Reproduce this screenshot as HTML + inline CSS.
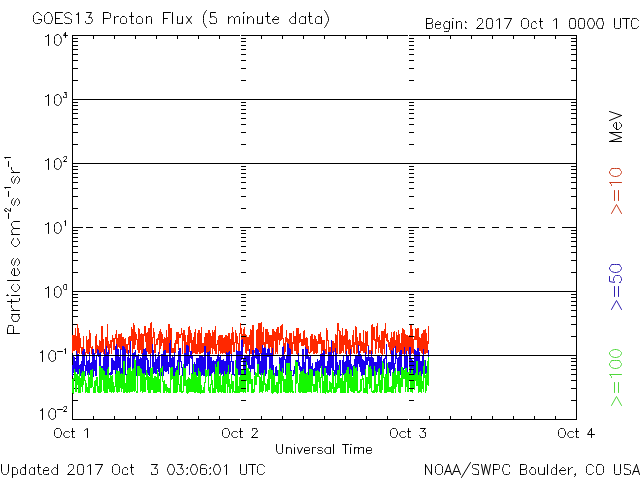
<!DOCTYPE html><html><head><meta charset="utf-8"><style>html,body{margin:0;padding:0;background:#fff;width:640px;height:480px;overflow:hidden}svg{display:block}</style></head><body>
<svg width="640" height="480" viewBox="0 0 640 480">
<rect width="640" height="480" fill="#fff"/>
<path d="M72.5,35.5H576.5V419.5H72.5ZM73,400.5H78M571,400.5H576M73,388.5H78M571,388.5H576M73,380.5H78M571,380.5H576M73,374.5H78M571,374.5H576M73,369.5H78M571,369.5H576M73,365.5H78M571,365.5H576M73,361.5H78M571,361.5H576M73,358.5H78M571,358.5H576M73,336.5H78M571,336.5H576M73,324.5H78M571,324.5H576M73,316.5H78M571,316.5H576M73,310.5H78M571,310.5H576M73,305.5H78M571,305.5H576M73,301.5H78M571,301.5H576M73,297.5H78M571,297.5H576M73,294.5H78M571,294.5H576M73,272.5H78M571,272.5H576M73,260.5H78M571,260.5H576M73,252.5H78M571,252.5H576M73,246.5H78M571,246.5H576M73,241.5H78M571,241.5H576M73,237.5H78M571,237.5H576M73,233.5H78M571,233.5H576M73,230.5H78M571,230.5H576M73,208.5H78M571,208.5H576M73,196.5H78M571,196.5H576M73,188.5H78M571,188.5H576M73,182.5H78M571,182.5H576M73,177.5H78M571,177.5H576M73,173.5H78M571,173.5H576M73,169.5H78M571,169.5H576M73,166.5H78M571,166.5H576M73,144.5H78M571,144.5H576M73,132.5H78M571,132.5H576M73,124.5H78M571,124.5H576M73,118.5H78M571,118.5H576M73,113.5H78M571,113.5H576M73,109.5H78M571,109.5H576M73,105.5H78M571,105.5H576M73,102.5H78M571,102.5H576M73,80.5H78M571,80.5H576M73,68.5H78M571,68.5H576M73,60.5H78M571,60.5H576M73,54.5H78M571,54.5H576M73,49.5H78M571,49.5H576M73,45.5H78M571,45.5H576M73,41.5H78M571,41.5H576M73,38.5H78M571,38.5H576M73,227.5H83M562,227.5H576M93.5,36V39M93.5,416V419M114.5,36V39M114.5,416V419M135.5,36V39M135.5,416V419M156.5,36V39M156.5,416V419M177.5,36V39M177.5,416V419M198.5,36V39M198.5,416V419M219.5,36V39M219.5,416V419M261.5,36V39M261.5,416V419M282.5,36V39M282.5,416V419M303.5,36V39M303.5,416V419M324.5,36V39M324.5,416V419M345.5,36V39M345.5,416V419M366.5,36V39M366.5,416V419M387.5,36V39M387.5,416V419M429.5,36V39M429.5,416V419M450.5,36V39M450.5,416V419M471.5,36V39M471.5,416V419M492.5,36V39M492.5,416V419M513.5,36V39M513.5,416V419M534.5,36V39M534.5,416V419M555.5,36V39M555.5,416V419" stroke="#000" stroke-width="1" fill="none" shape-rendering="crispEdges"/>
<path d="M240.5,35V420M408.5,35V420" stroke="#fff" stroke-width="1" shape-rendering="crispEdges"/>
<path d="M72.5,335V353M73.5,335V351M74.5,335V351M75.5,328V350M76.5,336V352M77.5,324V354M78.5,328V353M79.5,333V354M80.5,338V348M81.5,347V354M82.5,347V355M83.5,336V353M84.5,352V354M85.5,352V355M86.5,336V353M87.5,340V354M88.5,339V354M89.5,330V353M90.5,333V348M91.5,347V354M92.5,346V354M93.5,352V354M94.5,353V353M95.5,336V354M96.5,334V353M97.5,345V353M98.5,346V353M99.5,340V353M100.5,341V352M101.5,326V353M102.5,326V352M103.5,339V354M104.5,350V354M105.5,337V354M106.5,337V353M107.5,324V348M108.5,341V354M109.5,344V354M110.5,340V348M111.5,340V354M112.5,335V342M113.5,338V350M114.5,338V350M115.5,334V339M116.5,330V353M117.5,338V353M118.5,334V347M119.5,334V348M120.5,334V353M121.5,333V350M122.5,337V353M123.5,337V354M124.5,339V353M125.5,338V354M126.5,344V353M127.5,344V354M128.5,337V345M129.5,336V353M130.5,336V343M131.5,327V341M132.5,329V353M133.5,323V349M134.5,325V349M135.5,332V345M136.5,334V340M137.5,339V350M138.5,328V353M139.5,329V353M140.5,334V350M141.5,333V354M142.5,334V353M143.5,334V352M144.5,326V336M145.5,326V342M146.5,333V351M147.5,332V352M148.5,328V354M149.5,328V354M150.5,323V354M151.5,322V353M152.5,337V349M153.5,328V338M154.5,332V353M155.5,344V353M156.5,339V345M157.5,338V345M158.5,334V340M159.5,331V354M160.5,329V349M161.5,332V346M162.5,334V343M163.5,339V354M164.5,337V353M165.5,338V354M166.5,330V353M167.5,337V353M168.5,324V353M169.5,324V353M170.5,328V354M171.5,328V353M172.5,348V353M173.5,348V353M174.5,343V354M175.5,340V353M176.5,332V344M177.5,332V344M178.5,332V350M179.5,334V338M180.5,334V338M181.5,328V335M182.5,333V354M183.5,330V341M184.5,330V354M185.5,335V354M186.5,342V354M187.5,335V353M188.5,327V353M189.5,326V352M190.5,330V343M191.5,333V353M192.5,340V354M193.5,337V353M194.5,332V353M195.5,329V354M196.5,344V354M197.5,333V354M198.5,330V352M199.5,330V354M200.5,333V354M201.5,327V353M202.5,343V353M203.5,343V352M204.5,337V354M205.5,333V354M206.5,333V353M207.5,333V354M208.5,330V354M209.5,330V354M210.5,333V354M211.5,336V348M212.5,330V354M213.5,332V349M214.5,330V351M215.5,326V354M216.5,344V354M217.5,340V345M218.5,336V354M219.5,335V351M220.5,335V354M221.5,335V353M222.5,335V354M223.5,338V353M224.5,337V353M225.5,335V354M226.5,335V353M227.5,336V354M228.5,333V353M229.5,333V352M230.5,339V354M231.5,333V354M232.5,327V345M233.5,332V352M234.5,342V352M235.5,330V343M236.5,333V353M237.5,336V344M238.5,343V353M239.5,333V351M240.5,323V334M241.5,328V347M242.5,334V353M243.5,329V347M244.5,327V344M245.5,334V353M246.5,335V354M247.5,337V351M248.5,337V351M249.5,335V345M250.5,329V354M251.5,330V354M252.5,325V354M253.5,325V353M254.5,350V353M255.5,351V353M256.5,330V353M257.5,329V349M258.5,323V353M259.5,323V352M260.5,323V354M261.5,322V354M262.5,332V353M263.5,327V345M264.5,342V353M265.5,329V354M266.5,329V344M267.5,329V344M268.5,332V354M269.5,335V353M270.5,335V347M271.5,335V354M272.5,329V354M273.5,329V355M274.5,331V341M275.5,332V354M276.5,329V352M277.5,327V354M278.5,327V340M279.5,333V345M280.5,326V341M281.5,325V340M282.5,324V339M283.5,338V354M284.5,343V354M285.5,337V352M286.5,330V342M287.5,338V350M288.5,339V349M289.5,333V353M290.5,333V353M291.5,333V354M292.5,342V354M293.5,331V344M294.5,336V351M295.5,336V351M296.5,328V354M297.5,328V355M298.5,328V353M299.5,334V343M300.5,333V342M301.5,339V346M302.5,339V346M303.5,331V346M304.5,330V345M305.5,338V354M306.5,337V354M307.5,338V353M308.5,346V353M309.5,352V354M310.5,336V353M311.5,334V352M312.5,334V351M313.5,339V354M314.5,335V354M315.5,336V353M316.5,339V354M317.5,341V353M318.5,334V344M319.5,334V344M320.5,332V344M321.5,337V354M322.5,340V351M323.5,340V354M324.5,340V354M325.5,349V354M326.5,328V354M327.5,330V341M328.5,340V353M329.5,347V354M330.5,347V353M331.5,345V353M332.5,341V353M333.5,341V353M334.5,343V352M335.5,334V354M336.5,335V353M337.5,323V354M338.5,323V331M339.5,330V354M340.5,331V354M341.5,335V353M342.5,328V351M343.5,336V353M344.5,335V345M345.5,329V354M346.5,329V353M347.5,331V349M348.5,340V354M349.5,339V355M350.5,340V353M351.5,345V354M352.5,335V347M353.5,330V353M354.5,342V354M355.5,326V345M356.5,327V354M357.5,337V353M358.5,341V347M359.5,333V346M360.5,333V353M361.5,341V351M362.5,342V351M363.5,330V353M364.5,343V353M365.5,331V354M366.5,332V354M367.5,331V346M368.5,345V354M369.5,350V354M370.5,350V354M371.5,325V354M372.5,324V354M373.5,327V340M374.5,327V341M375.5,339V354M376.5,326V349M377.5,323V342M378.5,337V353M379.5,335V348M380.5,340V353M381.5,331V354M382.5,331V355M383.5,331V349M384.5,329V354M385.5,323V338M386.5,334V341M387.5,333V342M388.5,340V347M389.5,342V350M390.5,338V354M391.5,332V354M392.5,337V354M393.5,332V349M394.5,331V348M395.5,340V353M396.5,332V354M397.5,335V353M398.5,330V352M399.5,334V354M400.5,343V353M401.5,333V354M402.5,328V354M403.5,329V354M404.5,330V347M405.5,334V354M406.5,335V351M407.5,335V351M408.5,336V354M409.5,335V353M410.5,324V354M411.5,324V354M412.5,329V353M413.5,339V354M414.5,336V340M415.5,328V340M416.5,329V340M417.5,328V354M418.5,328V353M419.5,337V351M420.5,338V351M421.5,334V353M422.5,333V354M423.5,330V354M424.5,330V354M425.5,329V354M426.5,333V353M427.5,341V353M428.5,326V344" stroke="#ff2800" stroke-width="1" fill="none" shape-rendering="crispEdges"/>
<path d="M72.5,365V376M73.5,356V373M74.5,357V374M75.5,361V376M76.5,351V372M77.5,354V375M78.5,354V374M79.5,365V376M80.5,364V376M81.5,361V373M82.5,351V376M83.5,349V375M84.5,349V366M85.5,365V376M86.5,356V371M87.5,361V375M88.5,360V375M89.5,352V375M90.5,363V376M91.5,362V375M92.5,349V376M93.5,349V377M94.5,353V371M95.5,360V376M96.5,355V376M97.5,349V356M98.5,350V357M99.5,353V375M100.5,352V374M101.5,366V375M102.5,366V374M103.5,357V376M104.5,349V375M105.5,354V376M106.5,346V375M107.5,352V376M108.5,350V376M109.5,373V375M110.5,372V375M111.5,358V375M112.5,358V374M113.5,360V370M114.5,361V370M115.5,346V375M116.5,344V376M117.5,349V375M118.5,349V368M119.5,357V371M120.5,349V376M121.5,368V376M122.5,346V375M123.5,346V370M124.5,347V370M125.5,349V375M126.5,374V376M127.5,357V376M128.5,350V375M129.5,358V375M130.5,341V376M131.5,373V376M132.5,353V375M133.5,353V374M134.5,352V375M135.5,350V357M136.5,356V376M137.5,356V371M138.5,354V375M139.5,359V376M140.5,357V375M141.5,358V376M142.5,353V375M143.5,349V376M144.5,349V375M145.5,348V375M146.5,351V360M147.5,358V375M148.5,360V375M149.5,367V376M150.5,354V375M151.5,372V375M152.5,344V375M153.5,350V374M154.5,362V373M155.5,354V374M156.5,359V374M157.5,357V369M158.5,352V372M159.5,356V376M160.5,371V376M161.5,354V376M162.5,354V377M163.5,351V376M164.5,350V371M165.5,350V372M166.5,355V372M167.5,355V371M168.5,362V374M169.5,343V367M170.5,340V376M171.5,358V375M172.5,356V375M173.5,357V376M174.5,352V376M175.5,368V376M176.5,366V376M177.5,360V376M178.5,351V374M179.5,348V375M180.5,348V362M181.5,361V368M182.5,367V376M183.5,364V376M184.5,353V375M185.5,353V375M186.5,345V366M187.5,345V366M188.5,346V364M189.5,356V375M190.5,351V358M191.5,351V359M192.5,356V375M193.5,367V375M194.5,362V372M195.5,364V373M196.5,358V375M197.5,358V376M198.5,358V376M199.5,356V372M200.5,356V372M201.5,355V376M202.5,355V375M203.5,357V376M204.5,346V376M205.5,346V375M206.5,374V376M207.5,352V375M208.5,352V371M209.5,351V376M210.5,357V376M211.5,357V377M212.5,361V373M213.5,360V372M214.5,361V375M215.5,361V375M216.5,359V376M217.5,355V374M218.5,354V375M219.5,357V374M220.5,356V374M221.5,360V375M222.5,360V374M223.5,359V376M224.5,361V375M225.5,361V374M226.5,352V376M227.5,353V376M228.5,352V374M229.5,351V374M230.5,361V372M231.5,354V362M232.5,361V375M233.5,361V375M234.5,374V376M235.5,374V377M236.5,350V376M237.5,351V377M238.5,351V375M239.5,351V375M240.5,351V375M241.5,340V360M242.5,339V359M243.5,359V375M244.5,356V375M245.5,356V375M246.5,356V364M247.5,356V365M248.5,356V376M249.5,349V369M250.5,365V374M251.5,357V369M252.5,350V369M253.5,350V369M254.5,355V375M255.5,348V358M256.5,348V359M257.5,349V374M258.5,350V375M259.5,353V374M260.5,361V375M261.5,353V375M262.5,345V375M263.5,348V376M264.5,347V376M265.5,348V376M266.5,353V374M267.5,349V357M268.5,348V357M269.5,349V370M270.5,353V376M271.5,353V376M272.5,348V376M273.5,365V375M274.5,374V375M275.5,367V376M276.5,366V376M277.5,370V376M278.5,370V375M279.5,357V371M280.5,358V376M281.5,357V377M282.5,347V374M283.5,346V373M284.5,356V360M285.5,359V375M286.5,355V372M287.5,343V376M288.5,344V376M289.5,348V371M290.5,349V371M291.5,370V376M292.5,375V376M293.5,370V376M294.5,366V374M295.5,361V375M296.5,360V375M297.5,360V368M298.5,353V366M299.5,362V370M300.5,366V376M301.5,367V377M302.5,349V376M303.5,349V376M304.5,362V376M305.5,347V376M306.5,349V359M307.5,349V359M308.5,356V376M309.5,357V375M310.5,356V375M311.5,366V376M312.5,363V375M313.5,369V376M314.5,368V376M315.5,362V376M316.5,362V377M317.5,359V376M318.5,361V373M319.5,360V376M320.5,354V368M321.5,354V375M322.5,353V376M323.5,350V376M324.5,351V376M325.5,366V374M326.5,366V373M327.5,361V375M328.5,352V375M329.5,352V376M330.5,352V375M331.5,340V368M332.5,355V375M333.5,351V371M334.5,370V376M335.5,348V376M336.5,353V375M337.5,362V371M338.5,365V376M339.5,360V375M340.5,360V376M341.5,374V375M342.5,360V375M343.5,355V375M344.5,362V375M345.5,361V376M346.5,351V375M347.5,355V375M348.5,355V369M349.5,360V374M350.5,349V376M351.5,364V376M352.5,366V376M353.5,365V375M354.5,359V373M355.5,355V376M356.5,355V376M357.5,355V374M358.5,345V364M359.5,351V367M360.5,354V372M361.5,355V376M362.5,359V375M363.5,360V375M364.5,361V375M365.5,352V375M366.5,357V365M367.5,357V365M368.5,346V361M369.5,357V370M370.5,357V375M371.5,351V376M372.5,357V376M373.5,358V376M374.5,362V376M375.5,362V375M376.5,362V375M377.5,355V372M378.5,356V376M379.5,356V375M380.5,357V375M381.5,356V375M382.5,371V376M383.5,359V372M384.5,358V369M385.5,355V359M386.5,344V375M387.5,369V376M388.5,362V372M389.5,362V373M390.5,362V376M391.5,350V370M392.5,351V369M393.5,348V375M394.5,363V376M395.5,346V364M396.5,353V359M397.5,358V375M398.5,357V375M399.5,352V375M400.5,350V375M401.5,350V375M402.5,368V376M403.5,368V375M404.5,347V369M405.5,356V370M406.5,351V376M407.5,355V374M408.5,373V376M409.5,347V375M410.5,347V375M411.5,359V375M412.5,360V375M413.5,361V376M414.5,349V376M415.5,350V376M416.5,351V376M417.5,348V376M418.5,348V376M419.5,352V372M420.5,361V376M421.5,361V376M422.5,356V374M423.5,349V375M424.5,360V375M425.5,360V374M426.5,366V375M427.5,367V374M428.5,350V376" stroke="#1a00f0" stroke-width="1" fill="none" shape-rendering="crispEdges"/>
<path d="M72.5,379V393M73.5,378V394M74.5,369V380M75.5,372V392M76.5,374V392M77.5,374V385M78.5,376V393M79.5,369V393M80.5,378V393M81.5,373V387M82.5,371V392M83.5,372V385M84.5,371V381M85.5,380V393M86.5,383V392M87.5,387V393M88.5,373V393M89.5,377V393M90.5,370V388M91.5,370V388M92.5,369V387M93.5,387V393M94.5,381V393M95.5,380V393M96.5,377V386M97.5,377V392M98.5,386V393M99.5,366V393M100.5,366V393M101.5,368V392M102.5,368V380M103.5,370V391M104.5,371V393M105.5,375V393M106.5,375V393M107.5,369V393M108.5,367V389M109.5,378V392M110.5,375V392M111.5,376V393M112.5,375V392M113.5,382V393M114.5,386V392M115.5,374V387M116.5,370V392M117.5,371V393M118.5,371V392M119.5,371V392M120.5,374V388M121.5,373V392M122.5,374V389M123.5,361V393M124.5,361V393M125.5,383V392M126.5,375V393M127.5,370V393M128.5,368V392M129.5,368V393M130.5,367V392M131.5,371V392M132.5,369V392M133.5,368V391M134.5,359V392M135.5,360V391M136.5,391V393M137.5,366V393M138.5,366V376M139.5,366V376M140.5,368V392M141.5,369V391M142.5,373V393M143.5,374V392M144.5,373V392M145.5,377V392M146.5,370V380M147.5,373V390M148.5,376V393M149.5,377V393M150.5,368V393M151.5,368V390M152.5,367V390M153.5,378V393M154.5,376V393M155.5,376V393M156.5,377V393M157.5,370V392M158.5,373V392M159.5,379V392M160.5,368V393M161.5,368V372M162.5,366V382M163.5,381V393M164.5,380V393M165.5,384V391M166.5,384V393M167.5,387V392M168.5,388V393M169.5,388V393M170.5,368V393M171.5,367V380M172.5,367V379M173.5,376V393M174.5,376V393M175.5,372V393M176.5,370V393M177.5,370V392M178.5,362V385M179.5,384V392M180.5,376V392M181.5,375V393M182.5,391V393M183.5,364V392M184.5,368V386M185.5,368V386M186.5,380V393M187.5,379V394M188.5,377V393M189.5,378V392M190.5,379V392M191.5,373V392M192.5,374V392M193.5,364V392M194.5,372V393M195.5,372V393M196.5,375V392M197.5,377V393M198.5,368V393M199.5,371V393M200.5,372V394M201.5,385V393M202.5,390V393M203.5,387V393M204.5,382V393M205.5,369V383M206.5,370V377M207.5,370V376M208.5,369V391M209.5,387V393M210.5,384V393M211.5,374V385M212.5,380V393M213.5,388V393M214.5,374V393M215.5,364V393M216.5,367V389M217.5,362V392M218.5,361V393M219.5,376V392M220.5,373V392M221.5,385V393M222.5,376V392M223.5,376V393M224.5,371V393M225.5,374V393M226.5,374V384M227.5,372V393M228.5,365V387M229.5,379V393M230.5,384V393M231.5,374V389M232.5,381V393M233.5,381V392M234.5,391V393M235.5,360V393M236.5,368V393M237.5,369V393M238.5,386V393M239.5,377V393M240.5,375V392M241.5,369V392M242.5,369V392M243.5,369V393M244.5,375V392M245.5,374V393M246.5,362V381M247.5,368V392M248.5,368V392M249.5,371V384M250.5,372V384M251.5,379V393M252.5,379V393M253.5,389V393M254.5,376V392M255.5,372V385M256.5,373V385M257.5,364V377M258.5,364V377M259.5,376V393M260.5,377V392M261.5,373V392M262.5,381V393M263.5,373V391M264.5,370V385M265.5,383V392M266.5,384V391M267.5,379V392M268.5,370V390M269.5,369V390M270.5,368V379M271.5,370V393M272.5,370V394M273.5,375V393M274.5,373V392M275.5,385V392M276.5,382V393M277.5,382V394M278.5,370V393M279.5,364V384M280.5,371V393M281.5,372V393M282.5,368V381M283.5,376V392M284.5,379V392M285.5,379V393M286.5,363V393M287.5,363V393M288.5,363V393M289.5,363V392M290.5,371V393M291.5,371V392M292.5,380V393M293.5,391V393M294.5,392V392M295.5,360V393M296.5,362V384M297.5,362V383M298.5,383V392M299.5,374V393M300.5,372V393M301.5,371V392M302.5,371V393M303.5,369V393M304.5,373V393M305.5,374V393M306.5,373V393M307.5,372V392M308.5,375V392M309.5,369V392M310.5,369V392M311.5,369V393M312.5,370V386M313.5,384V392M314.5,384V392M315.5,371V392M316.5,371V391M317.5,370V393M318.5,371V382M319.5,372V388M320.5,377V393M321.5,366V378M322.5,374V393M323.5,381V393M324.5,368V393M325.5,368V394M326.5,375V392M327.5,375V393M328.5,390V393M329.5,381V392M330.5,382V392M331.5,383V393M332.5,370V389M333.5,372V393M334.5,387V393M335.5,374V393M336.5,383V392M337.5,370V389M338.5,370V388M339.5,365V388M340.5,378V393M341.5,378V393M342.5,373V393M343.5,381V393M344.5,374V393M345.5,373V393M346.5,370V382M347.5,367V393M348.5,367V393M349.5,374V388M350.5,369V391M351.5,370V392M352.5,377V392M353.5,366V393M354.5,366V393M355.5,368V391M356.5,367V391M357.5,371V393M358.5,391V393M359.5,390V393M360.5,379V392M361.5,379V391M362.5,375V380M363.5,378V393M364.5,388V393M365.5,369V393M366.5,377V393M367.5,377V394M368.5,365V384M369.5,367V389M370.5,366V388M371.5,369V392M372.5,391V393M373.5,390V393M374.5,366V393M375.5,371V392M376.5,384V393M377.5,384V392M378.5,369V386M379.5,368V392M380.5,380V393M381.5,374V393M382.5,361V390M383.5,363V378M384.5,377V393M385.5,374V393M386.5,374V393M387.5,363V392M388.5,368V392M389.5,387V392M390.5,387V392M391.5,386V393M392.5,372V393M393.5,373V393M394.5,371V389M395.5,368V393M396.5,375V387M397.5,371V384M398.5,371V392M399.5,371V393M400.5,378V393M401.5,367V387M402.5,367V387M403.5,370V379M404.5,370V379M405.5,368V392M406.5,368V387M407.5,372V392M408.5,372V392M409.5,367V380M410.5,373V392M411.5,370V392M412.5,368V393M413.5,374V389M414.5,375V390M415.5,373V381M416.5,361V386M417.5,361V386M418.5,375V393M419.5,372V392M420.5,371V392M421.5,376V393M422.5,381V389M423.5,366V392M424.5,360V378M425.5,375V393M426.5,373V391M427.5,361V385M428.5,357V386" stroke="#14f800" stroke-width="1" fill="none" shape-rendering="crispEdges"/>
<path d="M241,400.5H246M241,388.5H246M241,380.5H246M241,374.5H246M241,369.5H246M241,365.5H246M241,361.5H246M241,358.5H246M241,336.5H246M241,324.5H246M241,316.5H246M241,310.5H246M241,305.5H246M241,301.5H246M241,297.5H246M241,294.5H246M241,272.5H246M241,260.5H246M241,252.5H246M241,246.5H246M241,241.5H246M241,237.5H246M241,233.5H246M241,230.5H246M241,208.5H246M241,196.5H246M241,188.5H246M241,182.5H246M241,177.5H246M241,173.5H246M241,169.5H246M241,166.5H246M241,144.5H246M241,132.5H246M241,124.5H246M241,118.5H246M241,113.5H246M241,109.5H246M241,105.5H246M241,102.5H246M241,80.5H246M241,68.5H246M241,60.5H246M241,54.5H246M241,49.5H246M241,45.5H246M241,41.5H246M241,38.5H246M241,227.5H251M409,400.5H414M409,388.5H414M409,380.5H414M409,374.5H414M409,369.5H414M409,365.5H414M409,361.5H414M409,358.5H414M409,336.5H414M409,324.5H414M409,316.5H414M409,310.5H414M409,305.5H414M409,301.5H414M409,297.5H414M409,294.5H414M409,272.5H414M409,260.5H414M409,252.5H414M409,246.5H414M409,241.5H414M409,237.5H414M409,233.5H414M409,230.5H414M409,208.5H414M409,196.5H414M409,188.5H414M409,182.5H414M409,177.5H414M409,173.5H414M409,169.5H414M409,166.5H414M409,144.5H414M409,132.5H414M409,124.5H414M409,118.5H414M409,113.5H414M409,109.5H414M409,105.5H414M409,102.5H414M409,80.5H414M409,68.5H414M409,60.5H414M409,54.5H414M409,49.5H414M409,45.5H414M409,41.5H414M409,38.5H414M409,227.5H419" stroke="#000" stroke-width="1" fill="none" shape-rendering="crispEdges"/>
<path d="M72,99.5H577M72,163.5H577M72,291.5H577M72,355.5H577" stroke="#000" stroke-width="1" shape-rendering="crispEdges"/>
<path d="M72,227.5H79M86,227.5H93M100,227.5H107M114,227.5H121M128,227.5H135M142,227.5H149M156,227.5H163M170,227.5H177M184,227.5H191M198,227.5H205M212,227.5H219M226,227.5H233M240,227.5H247M254,227.5H261M268,227.5H275M282,227.5H289M296,227.5H303M310,227.5H317M324,227.5H331M338,227.5H345M352,227.5H359M366,227.5H373M380,227.5H387M394,227.5H401M408,227.5H415M422,227.5H429M436,227.5H443M450,227.5H457M464,227.5H471M478,227.5H485M492,227.5H499M506,227.5H513M520,227.5H527M534,227.5H541M548,227.5H555M562,227.5H569" stroke="#000" stroke-width="1" shape-rendering="crispEdges"/>
<path d="M41.50,15.50L40.50,14.50L39.50,13.50L38.50,12.50L36.50,12.50L35.50,13.50L34.50,14.50L33.50,15.50L33.50,17.50L33.50,19.50L33.50,21.50L34.50,22.50L35.50,23.50L36.50,23.50L38.50,23.50L39.50,23.50L40.50,22.50L41.50,21.50L41.50,19.50M38.50,19.50L41.50,19.50M47.50,12.50L46.50,13.50L45.50,14.50L44.50,15.50L44.50,17.50L44.50,19.50L44.50,21.50L45.50,22.50L46.50,23.50L47.50,23.50L49.50,23.50L50.50,23.50L51.50,22.50L51.50,21.50L52.50,19.50L52.50,17.50L51.50,15.50L51.50,14.50L50.50,13.50L49.50,12.50L47.50,12.50M55.50,12.50L55.50,23.50M55.50,12.50L62.50,12.50M55.50,18.50L59.50,18.50M55.50,23.50L62.50,23.50M71.50,14.50L70.50,13.50L69.50,12.50L67.50,12.50L65.50,13.50L64.50,14.50L64.50,15.50L65.50,16.50L65.50,17.50L66.50,17.50L69.50,18.50L70.50,19.50L71.50,19.50L71.50,20.50L71.50,22.50L70.50,23.50L69.50,23.50L67.50,23.50L65.50,23.50L64.50,22.50M76.50,14.50L77.50,14.50L78.50,12.50L78.50,23.50M86.50,12.50L91.50,12.50L88.50,17.50L90.50,17.50L91.50,17.50L91.50,18.50L92.50,19.50L92.50,20.50L91.50,22.50L90.50,23.50L89.50,23.50L87.50,23.50L86.50,23.50L85.50,22.50L85.50,21.50M103.50,12.50L103.50,23.50M103.50,12.50L108.50,12.50L109.50,13.50L110.50,13.50L110.50,14.50L110.50,16.50L110.50,17.50L109.50,18.50L108.50,18.50L103.50,18.50M114.50,16.50L114.50,23.50M114.50,19.50L114.50,18.50L115.50,17.50L116.50,16.50L118.50,16.50M122.50,16.50L121.50,17.50L120.50,18.50L120.50,19.50L120.50,20.50L120.50,22.50L121.50,23.50L122.50,23.50L124.50,23.50L125.50,23.50L126.50,22.50L126.50,20.50L126.50,19.50L126.50,18.50L125.50,17.50L124.50,16.50L122.50,16.50M131.50,12.50L131.50,21.50L131.50,23.50L132.50,23.50L133.50,23.50M129.50,16.50L133.50,16.50M138.50,16.50L137.50,17.50L136.50,18.50L136.50,19.50L136.50,20.50L136.50,22.50L137.50,23.50L138.50,23.50L140.50,23.50L141.50,23.50L142.50,22.50L142.50,20.50L142.50,19.50L142.50,18.50L141.50,17.50L140.50,16.50L138.50,16.50M146.50,16.50L146.50,23.50M146.50,18.50L147.50,17.50L148.50,16.50L150.50,16.50L151.50,17.50L151.50,18.50L151.50,23.50M163.50,12.50L163.50,23.50M163.50,12.50L170.50,12.50M163.50,18.50L167.50,18.50M172.50,12.50L172.50,23.50M177.50,16.50L177.50,21.50L177.50,23.50L178.50,23.50L180.50,23.50L181.50,23.50L182.50,21.50M182.50,16.50L182.50,23.50M186.50,16.50L191.50,23.50M191.50,16.50L186.50,23.50M206.50,10.50L205.50,11.50L204.50,13.50L203.50,15.50L203.50,18.50L203.50,20.50L203.50,22.50L204.50,24.50L205.50,26.50L206.50,27.50M215.50,12.50L210.50,12.50L210.50,17.50L210.50,17.50L212.50,16.50L213.50,16.50L215.50,17.50L216.50,18.50L216.50,19.50L216.50,20.50L216.50,22.50L215.50,23.50L213.50,23.50L212.50,23.50L210.50,23.50L210.50,22.50L209.50,21.50M228.50,16.50L228.50,23.50M228.50,18.50L230.50,17.50L231.50,16.50L232.50,16.50L233.50,17.50L234.50,18.50L234.50,23.50M234.50,18.50L235.50,17.50L236.50,16.50L238.50,16.50L239.50,17.50L239.50,18.50L239.50,23.50M243.50,12.50L243.50,13.50L244.50,12.50L243.50,12.50L243.50,12.50M243.50,16.50L243.50,23.50M247.50,16.50L247.50,23.50M247.50,18.50L249.50,17.50L250.50,16.50L251.50,16.50L252.50,17.50L253.50,18.50L253.50,23.50M257.50,16.50L257.50,21.50L257.50,23.50L258.50,23.50L260.50,23.50L261.50,23.50L262.50,21.50M262.50,16.50L262.50,23.50M267.50,12.50L267.50,21.50L268.50,23.50L269.50,23.50L270.50,23.50M265.50,16.50L269.50,16.50M272.50,19.50L278.50,19.50L278.50,18.50L278.50,17.50L277.50,17.50L276.50,16.50L275.50,16.50L274.50,17.50L273.50,18.50L272.50,19.50L272.50,20.50L273.50,22.50L274.50,23.50L275.50,23.50L276.50,23.50L277.50,23.50L278.50,22.50M295.50,12.50L295.50,23.50M295.50,18.50L294.50,17.50L293.50,16.50L292.50,16.50L291.50,17.50L290.50,18.50L289.50,19.50L289.50,20.50L290.50,22.50L291.50,23.50L292.50,23.50L293.50,23.50L294.50,23.50L295.50,22.50M305.50,16.50L305.50,23.50M305.50,18.50L304.50,17.50L303.50,16.50L301.50,16.50L300.50,17.50L299.50,18.50L299.50,19.50L299.50,20.50L299.50,22.50L300.50,23.50L301.50,23.50L303.50,23.50L304.50,23.50L305.50,22.50M309.50,12.50L309.50,21.50L310.50,23.50L311.50,23.50L312.50,23.50M308.50,16.50L311.50,16.50M321.50,16.50L321.50,23.50M321.50,18.50L320.50,17.50L319.50,16.50L317.50,16.50L316.50,17.50L315.50,18.50L315.50,19.50L315.50,20.50L315.50,22.50L316.50,23.50L317.50,23.50L319.50,23.50L320.50,23.50L321.50,22.50M324.50,10.50L325.50,11.50L326.50,13.50L327.50,15.50L328.50,18.50L328.50,20.50L327.50,22.50L326.50,24.50L325.50,26.50L324.50,27.50" stroke="#000" stroke-width="1" fill="none" stroke-linejoin="round" stroke-linecap="round"/>
<path d="M426.50,18.50L426.50,28.50M426.50,18.50L430.50,18.50L431.50,18.50L432.50,19.50L432.50,20.50L432.50,21.50L432.50,22.50L431.50,22.50L430.50,23.50M426.50,23.50L430.50,23.50L431.50,23.50L432.50,24.50L432.50,25.50L432.50,26.50L432.50,27.50L431.50,28.50L430.50,28.50L426.50,28.50M435.50,24.50L440.50,24.50L440.50,23.50L440.50,22.50L439.50,22.50L438.50,21.50L437.50,21.50L436.50,22.50L435.50,23.50L435.50,24.50L435.50,25.50L435.50,27.50L436.50,28.50L437.50,28.50L438.50,28.50L439.50,28.50L440.50,27.50M449.50,21.50L449.50,29.50L448.50,30.50L448.50,31.50L447.50,31.50L445.50,31.50L444.50,31.50M449.50,23.50L448.50,22.50L447.50,21.50L445.50,21.50L444.50,22.50L444.50,23.50L443.50,24.50L443.50,25.50L444.50,27.50L444.50,28.50L445.50,28.50L447.50,28.50L448.50,28.50L449.50,27.50M452.50,18.50L452.50,18.50L453.50,18.50L452.50,18.50L452.50,18.50M452.50,21.50L452.50,28.50M456.50,21.50L456.50,28.50M456.50,23.50L457.50,22.50L458.50,21.50L460.50,21.50L461.50,22.50L461.50,23.50L461.50,28.50M465.50,21.50L465.50,22.50L465.50,22.50L466.50,22.50L465.50,21.50M465.50,27.50L465.50,28.50L465.50,28.50L466.50,28.50L465.50,27.50M477.50,20.50L477.50,20.50L477.50,19.50L478.50,18.50L479.50,18.50L481.50,18.50L481.50,18.50L482.50,19.50L482.50,20.50L482.50,21.50L482.50,22.50L481.50,23.50L476.50,28.50L483.50,28.50M488.50,18.50L487.50,18.50L486.50,20.50L486.50,22.50L486.50,24.50L486.50,26.50L487.50,28.50L488.50,28.50L489.50,28.50L491.50,28.50L492.50,26.50L492.50,24.50L492.50,22.50L492.50,20.50L491.50,18.50L489.50,18.50L488.50,18.50M496.50,20.50L497.50,19.50L499.50,18.50L499.50,28.50M511.50,18.50L506.50,28.50M504.50,18.50L511.50,18.50M523.50,18.50L523.50,18.50L522.50,19.50L521.50,20.50L521.50,22.50L521.50,24.50L521.50,26.50L522.50,27.50L523.50,28.50L523.50,28.50L525.50,28.50L526.50,28.50L527.50,27.50L528.50,26.50L528.50,24.50L528.50,22.50L528.50,20.50L527.50,19.50L526.50,18.50L525.50,18.50L523.50,18.50M536.50,23.50L535.50,22.50L535.50,21.50L533.50,21.50L532.50,22.50L531.50,23.50L531.50,24.50L531.50,25.50L531.50,27.50L532.50,28.50L533.50,28.50L535.50,28.50L535.50,28.50L536.50,27.50M540.50,18.50L540.50,26.50L541.50,28.50L541.50,28.50L542.50,28.50M539.50,21.50L542.50,21.50M553.50,20.50L554.50,19.50L556.50,18.50L556.50,28.50M572.50,18.50L570.50,18.50L569.50,20.50L569.50,22.50L569.50,24.50L569.50,26.50L570.50,28.50L572.50,28.50L572.50,28.50L574.50,28.50L575.50,26.50L575.50,24.50L575.50,22.50L575.50,20.50L574.50,18.50L572.50,18.50L572.50,18.50M581.50,18.50L579.50,18.50L578.50,20.50L578.50,22.50L578.50,24.50L578.50,26.50L579.50,28.50L581.50,28.50L582.50,28.50L583.50,28.50L584.50,26.50L584.50,24.50L584.50,22.50L584.50,20.50L583.50,18.50L582.50,18.50L581.50,18.50M590.50,18.50L589.50,18.50L588.50,20.50L587.50,22.50L587.50,24.50L588.50,26.50L589.50,28.50L590.50,28.50L591.50,28.50L592.50,28.50L593.50,26.50L594.50,24.50L594.50,22.50L593.50,20.50L592.50,18.50L591.50,18.50L590.50,18.50M599.50,18.50L598.50,18.50L597.50,20.50L596.50,22.50L596.50,24.50L597.50,26.50L598.50,28.50L599.50,28.50L600.50,28.50L602.50,28.50L602.50,26.50L603.50,24.50L603.50,22.50L602.50,20.50L602.50,18.50L600.50,18.50L599.50,18.50M614.50,18.50L614.50,25.50L614.50,27.50L615.50,28.50L616.50,28.50L617.50,28.50L619.50,28.50L620.50,27.50L620.50,25.50L620.50,18.50M626.50,18.50L626.50,28.50M622.50,18.50L629.50,18.50M638.50,20.50L637.50,19.50L636.50,18.50L635.50,18.50L633.50,18.50L632.50,18.50L632.50,19.50L631.50,20.50L631.50,22.50L631.50,24.50L631.50,26.50L632.50,27.50L632.50,28.50L633.50,28.50L635.50,28.50L636.50,28.50L637.50,27.50L638.50,26.50" stroke="#000" stroke-width="1" fill="none" stroke-linejoin="round" stroke-linecap="round"/>
<path d="M1.50,464.50L1.50,471.50L2.50,473.50L3.50,474.50L4.50,474.50L5.50,474.50L6.50,474.50L7.50,473.50L8.50,471.50L8.50,464.50M12.50,467.50L12.50,477.50M12.50,469.50L12.50,468.50L13.50,467.50L15.50,467.50L16.50,468.50L17.50,469.50L17.50,470.50L17.50,471.50L17.50,473.50L16.50,474.50L15.50,474.50L13.50,474.50L12.50,474.50L12.50,473.50M25.50,464.50L25.50,474.50M25.50,469.50L24.50,468.50L24.50,467.50L22.50,467.50L21.50,468.50L20.50,469.50L20.50,470.50L20.50,471.50L20.50,473.50L21.50,474.50L22.50,474.50L24.50,474.50L24.50,474.50L25.50,473.50M34.50,467.50L34.50,474.50M34.50,469.50L33.50,468.50L32.50,467.50L31.50,467.50L30.50,468.50L29.50,469.50L29.50,470.50L29.50,471.50L29.50,473.50L30.50,474.50L31.50,474.50L32.50,474.50L33.50,474.50L34.50,473.50M38.50,464.50L38.50,472.50L39.50,474.50L40.50,474.50L41.50,474.50M37.50,467.50L40.50,467.50M43.50,470.50L48.50,470.50L48.50,469.50L48.50,468.50L48.50,468.50L47.50,467.50L45.50,467.50L44.50,468.50L43.50,469.50L43.50,470.50L43.50,471.50L43.50,473.50L44.50,474.50L45.50,474.50L47.50,474.50L48.50,474.50L48.50,473.50M57.50,464.50L57.50,474.50M57.50,469.50L56.50,468.50L55.50,467.50L54.50,467.50L53.50,468.50L52.50,469.50L51.50,470.50L51.50,471.50L52.50,473.50L53.50,474.50L54.50,474.50L55.50,474.50L56.50,474.50L57.50,473.50M68.50,466.50L68.50,466.50L68.50,465.50L69.50,464.50L70.50,464.50L72.50,464.50L72.50,464.50L73.50,465.50L73.50,466.50L73.50,467.50L73.50,468.50L72.50,469.50L67.50,474.50L74.50,474.50M79.50,464.50L78.50,464.50L77.50,466.50L77.50,468.50L77.50,470.50L77.50,472.50L78.50,474.50L79.50,474.50L80.50,474.50L82.50,474.50L83.50,472.50L83.50,470.50L83.50,468.50L83.50,466.50L82.50,464.50L80.50,464.50L79.50,464.50M87.50,466.50L88.50,465.50L90.50,464.50L90.50,474.50M102.50,464.50L97.50,474.50M95.50,464.50L102.50,464.50M115.50,464.50L114.50,464.50L113.50,465.50L112.50,466.50L112.50,468.50L112.50,470.50L112.50,472.50L113.50,473.50L114.50,474.50L115.50,474.50L116.50,474.50L117.50,474.50L118.50,473.50L119.50,472.50L119.50,470.50L119.50,468.50L119.50,466.50L118.50,465.50L117.50,464.50L116.50,464.50L115.50,464.50M127.50,469.50L127.50,468.50L126.50,467.50L124.50,467.50L123.50,468.50L122.50,469.50L122.50,470.50L122.50,471.50L122.50,473.50L123.50,474.50L124.50,474.50L126.50,474.50L127.50,474.50L127.50,473.50M131.50,464.50L131.50,472.50L132.50,474.50L133.50,474.50L133.50,474.50M130.50,467.50L133.50,467.50M151.50,464.50L157.50,464.50L154.50,468.50L155.50,468.50L156.50,468.50L157.50,469.50L157.50,470.50L157.50,471.50L157.50,473.50L156.50,474.50L154.50,474.50L153.50,474.50L151.50,474.50L151.50,473.50L151.50,472.50M170.50,464.50L169.50,464.50L168.50,466.50L167.50,468.50L167.50,470.50L168.50,472.50L169.50,474.50L170.50,474.50L171.50,474.50L172.50,474.50L173.50,472.50L174.50,470.50L174.50,468.50L173.50,466.50L172.50,464.50L171.50,464.50L170.50,464.50M177.50,464.50L182.50,464.50L180.50,468.50L181.50,468.50L182.50,468.50L182.50,469.50L183.50,470.50L183.50,471.50L182.50,473.50L181.50,474.50L180.50,474.50L179.50,474.50L177.50,474.50L177.50,473.50L176.50,472.50M187.50,467.50L186.50,468.50L187.50,468.50L187.50,468.50L187.50,467.50M187.50,473.50L186.50,474.50L187.50,474.50L187.50,474.50L187.50,473.50M193.50,464.50L192.50,464.50L191.50,466.50L190.50,468.50L190.50,470.50L191.50,472.50L192.50,474.50L193.50,474.50L194.50,474.50L195.50,474.50L196.50,472.50L197.50,470.50L197.50,468.50L196.50,466.50L195.50,464.50L194.50,464.50L193.50,464.50M206.50,465.50L205.50,464.50L204.50,464.50L203.50,464.50L201.50,464.50L200.50,466.50L200.50,468.50L200.50,471.50L200.50,473.50L201.50,474.50L203.50,474.50L203.50,474.50L205.50,474.50L206.50,473.50L206.50,471.50L206.50,471.50L206.50,469.50L205.50,468.50L203.50,468.50L203.50,468.50L201.50,468.50L200.50,469.50L200.50,471.50M210.50,467.50L209.50,468.50L210.50,468.50L210.50,468.50L210.50,467.50M210.50,473.50L209.50,474.50L210.50,474.50L210.50,474.50L210.50,473.50M216.50,464.50L215.50,464.50L214.50,466.50L213.50,468.50L213.50,470.50L214.50,472.50L215.50,474.50L216.50,474.50L217.50,474.50L218.50,474.50L219.50,472.50L220.50,470.50L220.50,468.50L219.50,466.50L218.50,464.50L217.50,464.50L216.50,464.50M224.50,466.50L225.50,465.50L226.50,464.50L226.50,474.50M240.50,464.50L240.50,471.50L240.50,473.50L241.50,474.50L242.50,474.50L243.50,474.50L245.50,474.50L246.50,473.50L246.50,471.50L246.50,464.50M252.50,464.50L252.50,474.50M248.50,464.50L255.50,464.50M264.50,466.50L263.50,465.50L262.50,464.50L261.50,464.50L260.50,464.50L259.50,464.50L258.50,465.50L257.50,466.50L257.50,468.50L257.50,470.50L257.50,472.50L258.50,473.50L259.50,474.50L260.50,474.50L261.50,474.50L262.50,474.50L263.50,473.50L264.50,472.50" stroke="#000" stroke-width="1" fill="none" stroke-linejoin="round" stroke-linecap="round"/>
<path d="M425.50,464.50L425.50,474.50M425.50,464.50L431.50,474.50M431.50,464.50L431.50,474.50M438.50,464.50L437.50,464.50L436.50,465.50L435.50,466.50L435.50,468.50L435.50,470.50L435.50,472.50L436.50,473.50L437.50,474.50L438.50,474.50L439.50,474.50L440.50,474.50L441.50,473.50L442.50,472.50L442.50,470.50L442.50,468.50L442.50,466.50L441.50,465.50L440.50,464.50L439.50,464.50L438.50,464.50M448.50,464.50L444.50,474.50M448.50,464.50L451.50,474.50M445.50,471.50L450.50,471.50M456.50,464.50L452.50,474.50M456.50,464.50L460.50,474.50M454.50,471.50L458.50,471.50M470.50,462.50L461.50,477.50M478.50,465.50L478.50,464.50L476.50,464.50L474.50,464.50L473.50,464.50L472.50,465.50L472.50,466.50L472.50,467.50L473.50,468.50L474.50,468.50L477.50,469.50L478.50,470.50L478.50,470.50L478.50,471.50L478.50,473.50L478.50,474.50L476.50,474.50L474.50,474.50L473.50,474.50L472.50,473.50M481.50,464.50L483.50,474.50M485.50,464.50L483.50,474.50M485.50,464.50L488.50,474.50M490.50,464.50L488.50,474.50M493.50,464.50L493.50,474.50M493.50,464.50L497.50,464.50L498.50,464.50L499.50,465.50L499.50,466.50L499.50,467.50L499.50,468.50L498.50,469.50L497.50,469.50L493.50,469.50M509.50,466.50L509.50,465.50L508.50,464.50L507.50,464.50L505.50,464.50L504.50,464.50L503.50,465.50L503.50,466.50L502.50,468.50L502.50,470.50L503.50,472.50L503.50,473.50L504.50,474.50L505.50,474.50L507.50,474.50L508.50,474.50L509.50,473.50L509.50,472.50M520.50,464.50L520.50,474.50M520.50,464.50L524.50,464.50L525.50,464.50L526.50,465.50L526.50,466.50L526.50,467.50L526.50,468.50L525.50,468.50L524.50,469.50M520.50,469.50L524.50,469.50L525.50,469.50L526.50,470.50L526.50,471.50L526.50,472.50L526.50,473.50L525.50,474.50L524.50,474.50L520.50,474.50M531.50,467.50L531.50,468.50L530.50,469.50L529.50,470.50L529.50,471.50L530.50,473.50L531.50,474.50L531.50,474.50L533.50,474.50L534.50,474.50L535.50,473.50L535.50,471.50L535.50,470.50L535.50,469.50L534.50,468.50L533.50,467.50L531.50,467.50M538.50,467.50L538.50,472.50L539.50,474.50L540.50,474.50L541.50,474.50L543.50,474.50L544.50,472.50M544.50,467.50L544.50,474.50M547.50,464.50L547.50,474.50M556.50,464.50L556.50,474.50M556.50,469.50L555.50,468.50L554.50,467.50L553.50,467.50L552.50,468.50L551.50,469.50L551.50,470.50L551.50,471.50L551.50,473.50L552.50,474.50L553.50,474.50L554.50,474.50L555.50,474.50L556.50,473.50M559.50,470.50L565.50,470.50L565.50,469.50L564.50,468.50L564.50,468.50L563.50,467.50L562.50,467.50L561.50,468.50L560.50,469.50L559.50,470.50L559.50,471.50L560.50,473.50L561.50,474.50L562.50,474.50L563.50,474.50L564.50,474.50L565.50,473.50M568.50,467.50L568.50,474.50M568.50,470.50L569.50,469.50L570.50,468.50L571.50,467.50L572.50,467.50M575.50,474.50L575.50,474.50L574.50,474.50L575.50,473.50L575.50,474.50L575.50,474.50L575.50,475.50L574.50,476.50M593.50,466.50L592.50,465.50L591.50,464.50L591.50,464.50L589.50,464.50L588.50,464.50L587.50,465.50L586.50,466.50L586.50,468.50L586.50,470.50L586.50,472.50L587.50,473.50L588.50,474.50L589.50,474.50L591.50,474.50L591.50,474.50L592.50,473.50L593.50,472.50M598.50,464.50L597.50,464.50L597.50,465.50L596.50,466.50L596.50,468.50L596.50,470.50L596.50,472.50L597.50,473.50L597.50,474.50L598.50,474.50L600.50,474.50L601.50,474.50L602.50,473.50L603.50,472.50L603.50,470.50L603.50,468.50L603.50,466.50L602.50,465.50L601.50,464.50L600.50,464.50L598.50,464.50M614.50,464.50L614.50,471.50L614.50,473.50L615.50,474.50L617.50,474.50L617.50,474.50L619.50,474.50L620.50,473.50L620.50,471.50L620.50,464.50M630.50,465.50L629.50,464.50L628.50,464.50L626.50,464.50L624.50,464.50L624.50,465.50L624.50,466.50L624.50,467.50L624.50,468.50L625.50,468.50L628.50,469.50L629.50,470.50L630.50,470.50L630.50,471.50L630.50,473.50L629.50,474.50L628.50,474.50L626.50,474.50L624.50,474.50L624.50,473.50M636.50,464.50L632.50,474.50M636.50,464.50L639.50,474.50M633.50,471.50L638.50,471.50" stroke="#000" stroke-width="1" fill="none" stroke-linejoin="round" stroke-linecap="round"/>
<path d="M56.50,428.50L56.50,428.50L55.50,429.50L54.50,430.50L54.50,431.50L54.50,434.50L54.50,435.50L55.50,436.50L56.50,437.50L56.50,437.50L58.50,437.50L59.50,437.50L60.50,436.50L60.50,435.50L61.50,434.50L61.50,431.50L60.50,430.50L60.50,429.50L59.50,428.50L58.50,428.50L56.50,428.50M69.50,432.50L68.50,431.50L67.50,431.50L66.50,431.50L65.50,431.50L64.50,432.50L63.50,434.50L63.50,434.50L64.50,436.50L65.50,437.50L66.50,437.50L67.50,437.50L68.50,437.50L69.50,436.50M72.50,428.50L72.50,435.50L72.50,437.50L73.50,437.50L74.50,437.50M71.50,431.50L74.50,431.50M84.50,430.50L85.50,429.50L87.50,428.50L87.50,437.50" stroke="#000" stroke-width="1" fill="none" stroke-linejoin="round" stroke-linecap="round"/>
<path d="M225.50,428.50L224.50,428.50L223.50,429.50L222.50,430.50L222.50,431.50L222.50,434.50L222.50,435.50L223.50,436.50L224.50,437.50L225.50,437.50L226.50,437.50L227.50,437.50L228.50,436.50L228.50,435.50L229.50,434.50L229.50,431.50L228.50,430.50L228.50,429.50L227.50,428.50L226.50,428.50L225.50,428.50M237.50,432.50L236.50,431.50L235.50,431.50L234.50,431.50L233.50,431.50L232.50,432.50L231.50,434.50L231.50,434.50L232.50,436.50L233.50,437.50L234.50,437.50L235.50,437.50L236.50,437.50L237.50,436.50M240.50,428.50L240.50,435.50L240.50,437.50L241.50,437.50L242.50,437.50M239.50,431.50L242.50,431.50M252.50,430.50L252.50,430.50L252.50,429.50L252.50,428.50L253.50,428.50L255.50,428.50L256.50,428.50L256.50,429.50L257.50,430.50L257.50,431.50L256.50,431.50L255.50,433.50L251.50,437.50L257.50,437.50" stroke="#000" stroke-width="1" fill="none" stroke-linejoin="round" stroke-linecap="round"/>
<path d="M393.50,428.50L392.50,428.50L391.50,429.50L390.50,430.50L390.50,431.50L390.50,434.50L390.50,435.50L391.50,436.50L392.50,437.50L393.50,437.50L394.50,437.50L395.50,437.50L396.50,436.50L396.50,435.50L397.50,434.50L397.50,431.50L396.50,430.50L396.50,429.50L395.50,428.50L394.50,428.50L393.50,428.50M405.50,432.50L404.50,431.50L403.50,431.50L402.50,431.50L401.50,431.50L400.50,432.50L399.50,434.50L399.50,434.50L400.50,436.50L401.50,437.50L402.50,437.50L403.50,437.50L404.50,437.50L405.50,436.50M408.50,428.50L408.50,435.50L408.50,437.50L409.50,437.50L410.50,437.50M407.50,431.50L410.50,431.50M420.50,428.50L425.50,428.50L422.50,431.50L423.50,431.50L424.50,432.50L425.50,432.50L425.50,434.50L425.50,434.50L425.50,436.50L424.50,437.50L423.50,437.50L421.50,437.50L420.50,437.50L420.50,436.50L419.50,435.50" stroke="#000" stroke-width="1" fill="none" stroke-linejoin="round" stroke-linecap="round"/>
<path d="M561.50,428.50L560.50,428.50L559.50,429.50L558.50,430.50L558.50,431.50L558.50,434.50L558.50,435.50L559.50,436.50L560.50,437.50L561.50,437.50L562.50,437.50L563.50,437.50L564.50,436.50L564.50,435.50L565.50,434.50L565.50,431.50L564.50,430.50L564.50,429.50L563.50,428.50L562.50,428.50L561.50,428.50M573.50,432.50L572.50,431.50L571.50,431.50L570.50,431.50L569.50,431.50L568.50,432.50L567.50,434.50L567.50,434.50L568.50,436.50L569.50,437.50L570.50,437.50L571.50,437.50L572.50,437.50L573.50,436.50M576.50,428.50L576.50,435.50L576.50,437.50L577.50,437.50L578.50,437.50M575.50,431.50L578.50,431.50M591.50,428.50L587.50,434.50L594.50,434.50M591.50,428.50L591.50,437.50" stroke="#000" stroke-width="1" fill="none" stroke-linejoin="round" stroke-linecap="round"/>
<path d="M276.50,444.50L276.50,450.50L277.50,452.50L278.50,453.50L279.50,453.50L280.50,453.50L281.50,453.50L282.50,452.50L282.50,450.50L282.50,444.50M286.50,447.50L286.50,453.50M286.50,449.50L287.50,447.50L288.50,447.50L289.50,447.50L290.50,447.50L291.50,449.50L291.50,453.50M294.50,444.50L294.50,444.50L294.50,444.50L294.50,444.50L294.50,444.50M294.50,447.50L294.50,453.50M297.50,447.50L299.50,453.50M302.50,447.50L299.50,453.50M304.50,450.50L309.50,450.50L309.50,449.50L309.50,448.50L308.50,447.50L307.50,447.50L306.50,447.50L305.50,447.50L304.50,448.50L304.50,450.50L304.50,450.50L304.50,452.50L305.50,453.50L306.50,453.50L307.50,453.50L308.50,453.50L309.50,452.50M312.50,447.50L312.50,453.50M312.50,450.50L312.50,448.50L313.50,447.50L314.50,447.50L315.50,447.50M322.50,448.50L321.50,447.50L320.50,447.50L319.50,447.50L318.50,447.50L317.50,448.50L318.50,449.50L318.50,450.50L321.50,450.50L321.50,450.50L322.50,451.50L322.50,452.50L321.50,453.50L320.50,453.50L319.50,453.50L318.50,453.50L317.50,452.50M330.50,447.50L330.50,453.50M330.50,448.50L329.50,447.50L328.50,447.50L327.50,447.50L326.50,447.50L325.50,448.50L324.50,450.50L324.50,450.50L325.50,452.50L326.50,453.50L327.50,453.50L328.50,453.50L329.50,453.50L330.50,452.50M333.50,444.50L333.50,453.50M345.50,444.50L345.50,453.50M342.50,444.50L348.50,444.50M350.50,444.50L350.50,444.50L351.50,444.50L350.50,444.50L350.50,444.50M350.50,447.50L350.50,453.50M354.50,447.50L354.50,453.50M354.50,449.50L355.50,447.50L356.50,447.50L357.50,447.50L358.50,447.50L358.50,449.50L358.50,453.50M358.50,449.50L360.50,447.50L360.50,447.50L362.50,447.50L363.50,447.50L363.50,449.50L363.50,453.50M366.50,450.50L371.50,450.50L371.50,449.50L371.50,448.50L370.50,447.50L369.50,447.50L368.50,447.50L367.50,447.50L366.50,448.50L366.50,450.50L366.50,450.50L366.50,452.50L367.50,453.50L368.50,453.50L369.50,453.50L370.50,453.50L371.50,452.50" stroke="#000" stroke-width="1" fill="none" stroke-linejoin="round" stroke-linecap="round"/>
<path d="M40.50,410.50L41.50,410.50L42.50,408.50L42.50,419.50M51.50,408.50L50.50,409.50L49.50,410.50L48.50,413.50L48.50,414.50L49.50,417.50L50.50,418.50L51.50,419.50L52.50,419.50L54.50,418.50L55.50,417.50L55.50,414.50L55.50,413.50L55.50,410.50L54.50,409.50L52.50,408.50L51.50,408.50M57.50,409.50L62.50,409.50M63.50,407.50L63.50,407.50L64.50,406.50L64.50,406.50L64.50,406.50L65.50,406.50L66.50,406.50L66.50,406.50L66.50,407.50L66.50,407.50L66.50,408.50L65.50,409.50L63.50,411.50L66.50,411.50" stroke="#000" stroke-width="1" fill="none" stroke-linejoin="round" stroke-linecap="round"/>
<path d="M40.50,352.50L41.50,352.50L42.50,350.50L42.50,361.50M51.50,350.50L50.50,351.50L49.50,352.50L48.50,355.50L48.50,356.50L49.50,359.50L50.50,360.50L51.50,361.50L52.50,361.50L54.50,360.50L55.50,359.50L55.50,356.50L55.50,355.50L55.50,352.50L54.50,351.50L52.50,350.50L51.50,350.50M57.50,351.50L62.50,351.50M64.50,349.50L64.50,349.50L65.50,348.50L65.50,353.50" stroke="#000" stroke-width="1" fill="none" stroke-linejoin="round" stroke-linecap="round"/>
<path d="M45.50,288.50L46.50,288.50L48.50,286.50L48.50,297.50M57.50,286.50L55.50,287.50L54.50,288.50L54.50,291.50L54.50,292.50L54.50,295.50L55.50,296.50L57.50,297.50L58.50,297.50L59.50,296.50L60.50,295.50L61.50,292.50L61.50,291.50L60.50,288.50L59.50,287.50L58.50,286.50L57.50,286.50M65.50,284.50L64.50,284.50L63.50,285.50L63.50,286.50L63.50,287.50L63.50,288.50L64.50,289.50L65.50,289.50L65.50,289.50L66.50,289.50L66.50,288.50L66.50,287.50L66.50,286.50L66.50,285.50L66.50,284.50L65.50,284.50L65.50,284.50" stroke="#000" stroke-width="1" fill="none" stroke-linejoin="round" stroke-linecap="round"/>
<path d="M45.50,224.50L46.50,224.50L48.50,222.50L48.50,233.50M57.50,222.50L55.50,223.50L54.50,224.50L54.50,227.50L54.50,228.50L54.50,231.50L55.50,232.50L57.50,233.50L58.50,233.50L59.50,232.50L60.50,231.50L61.50,228.50L61.50,227.50L60.50,224.50L59.50,223.50L58.50,222.50L57.50,222.50M64.50,221.50L64.50,221.50L65.50,220.50L65.50,225.50" stroke="#000" stroke-width="1" fill="none" stroke-linejoin="round" stroke-linecap="round"/>
<path d="M45.50,160.50L46.50,160.50L48.50,158.50L48.50,169.50M57.50,158.50L55.50,159.50L54.50,160.50L54.50,163.50L54.50,164.50L54.50,167.50L55.50,168.50L57.50,169.50L58.50,169.50L59.50,168.50L60.50,167.50L61.50,164.50L61.50,163.50L60.50,160.50L59.50,159.50L58.50,158.50L57.50,158.50M63.50,157.50L63.50,157.50L64.50,156.50L64.50,156.50L64.50,156.50L65.50,156.50L66.50,156.50L66.50,156.50L66.50,157.50L66.50,157.50L66.50,158.50L65.50,159.50L63.50,161.50L66.50,161.50" stroke="#000" stroke-width="1" fill="none" stroke-linejoin="round" stroke-linecap="round"/>
<path d="M45.50,96.50L46.50,96.50L48.50,94.50L48.50,105.50M57.50,94.50L55.50,95.50L54.50,96.50L54.50,99.50L54.50,100.50L54.50,103.50L55.50,104.50L57.50,105.50L58.50,105.50L59.50,104.50L60.50,103.50L61.50,100.50L61.50,99.50L60.50,96.50L59.50,95.50L58.50,94.50L57.50,94.50M64.50,92.50L66.50,92.50L65.50,94.50L65.50,94.50L66.50,94.50L66.50,94.50L66.50,95.50L66.50,96.50L66.50,96.50L66.50,97.50L65.50,97.50L64.50,97.50L64.50,97.50L63.50,97.50L63.50,96.50" stroke="#000" stroke-width="1" fill="none" stroke-linejoin="round" stroke-linecap="round"/>
<path d="M45.50,36.50L46.50,36.50L48.50,34.50L48.50,45.50M57.50,34.50L55.50,35.50L54.50,36.50L54.50,39.50L54.50,40.50L54.50,43.50L55.50,44.50L57.50,45.50L58.50,45.50L59.50,44.50L60.50,43.50L61.50,40.50L61.50,39.50L60.50,36.50L59.50,35.50L58.50,34.50L57.50,34.50M65.50,32.50L63.50,35.50L67.50,35.50M65.50,32.50L65.50,37.50" stroke="#000" stroke-width="1" fill="none" stroke-linejoin="round" stroke-linecap="round"/>
<path d="M7.50,333.50L19.50,333.50M7.50,333.50L7.50,328.50L8.50,326.50L8.50,325.50L9.50,325.50L11.50,325.50L12.50,325.50L13.50,326.50L13.50,328.50L13.50,333.50M11.50,314.50L19.50,314.50M13.50,314.50L12.50,315.50L11.50,317.50L11.50,318.50L12.50,319.50L13.50,321.50L14.50,321.50L16.50,321.50L17.50,321.50L18.50,319.50L19.50,318.50L19.50,317.50L18.50,315.50L17.50,314.50M11.50,310.50L19.50,310.50M14.50,310.50L13.50,309.50L12.50,308.50L11.50,307.50L11.50,305.50M7.50,301.50L17.50,301.50L18.50,301.50L19.50,300.50L19.50,298.50M11.50,303.50L11.50,299.50M7.50,295.50L8.50,295.50L7.50,294.50L6.50,295.50L7.50,295.50M11.50,295.50L19.50,295.50M13.50,284.50L12.50,285.50L11.50,286.50L11.50,288.50L12.50,289.50L13.50,290.50L14.50,291.50L16.50,291.50L17.50,290.50L18.50,289.50L19.50,288.50L19.50,286.50L18.50,285.50L17.50,284.50M7.50,280.50L19.50,280.50M14.50,275.50L14.50,268.50L13.50,268.50L12.50,269.50L12.50,270.50L11.50,271.50L11.50,273.50L12.50,274.50L13.50,275.50L14.50,275.50L16.50,275.50L17.50,275.50L18.50,274.50L19.50,273.50L19.50,271.50L18.50,270.50L17.50,268.50M13.50,258.50L12.50,259.50L11.50,261.50L11.50,263.50L12.50,264.50L13.50,265.50L14.50,264.50L14.50,263.50L15.50,260.50L16.50,259.50L17.50,258.50L17.50,258.50L18.50,259.50L19.50,261.50L19.50,263.50L18.50,264.50L17.50,265.50M13.50,238.50L12.50,240.50L11.50,241.50L11.50,243.50L12.50,244.50L13.50,245.50L14.50,246.50L16.50,246.50L17.50,245.50L18.50,244.50L19.50,243.50L19.50,241.50L18.50,240.50L17.50,238.50M11.50,234.50L19.50,234.50M13.50,234.50L12.50,233.50L11.50,231.50L11.50,230.50L12.50,229.50L13.50,228.50L19.50,228.50M13.50,228.50L12.50,226.50L11.50,225.50L11.50,223.50L12.50,222.50L13.50,221.50L19.50,221.50M8.50,218.50L8.50,213.50M6.50,211.50L5.50,211.50L5.50,211.50L5.50,210.50L4.50,210.50L4.50,209.50L5.50,208.50L5.50,208.50L5.50,208.50L6.50,208.50L6.50,208.50L7.50,209.50L10.50,211.50L10.50,208.50M13.50,198.50L12.50,199.50L11.50,201.50L11.50,203.50L12.50,204.50L13.50,205.50L14.50,204.50L14.50,203.50L15.50,200.50L16.50,199.50L17.50,198.50L17.50,198.50L18.50,199.50L19.50,201.50L19.50,203.50L18.50,204.50L17.50,205.50M8.50,196.50L8.50,191.50M5.50,188.50L5.50,188.50L4.50,187.50L10.50,187.50M13.50,176.50L12.50,177.50L11.50,178.50L11.50,180.50L12.50,182.50L13.50,183.50L14.50,182.50L14.50,181.50L15.50,178.50L16.50,177.50L17.50,176.50L17.50,176.50L18.50,177.50L19.50,178.50L19.50,180.50L18.50,182.50L17.50,183.50M11.50,172.50L19.50,172.50M14.50,172.50L13.50,171.50L12.50,170.50L11.50,169.50L11.50,167.50M8.50,166.50L8.50,161.50M5.50,158.50L5.50,158.50L4.50,157.50L10.50,157.50" stroke="#000" stroke-width="1" fill="none" stroke-linejoin="round" stroke-linecap="round"/>
<path d="M611.50,405.50L616.50,396.50L621.50,405.50M614.50,392.50L614.50,382.50M618.50,392.50L618.50,382.50M611.50,377.50L611.50,376.50L609.50,374.50L621.50,374.50M609.50,364.50L610.50,366.50L611.50,367.50L614.50,368.50L616.50,368.50L619.50,367.50L620.50,366.50L621.50,364.50L621.50,363.50L620.50,362.50L619.50,360.50L616.50,360.50L614.50,360.50L611.50,360.50L610.50,362.50L609.50,363.50L609.50,364.50M609.50,353.50L610.50,355.50L611.50,356.50L614.50,357.50L616.50,357.50L619.50,356.50L620.50,355.50L621.50,353.50L621.50,352.50L620.50,351.50L619.50,350.50L616.50,349.50L614.50,349.50L611.50,350.50L610.50,351.50L609.50,352.50L609.50,353.50" stroke="#50d83c" stroke-width="1" fill="none" stroke-linejoin="round" stroke-linecap="round"/>
<path d="M611.50,309.50L616.50,300.50L621.50,309.50M614.50,296.50L614.50,286.50M618.50,296.50L618.50,286.50M609.50,276.50L609.50,281.50L614.50,282.50L614.50,281.50L613.50,280.50L613.50,278.50L614.50,276.50L615.50,275.50L616.50,275.50L618.50,275.50L619.50,275.50L620.50,276.50L621.50,278.50L621.50,280.50L620.50,281.50L620.50,282.50L619.50,282.50M609.50,268.50L610.50,270.50L611.50,271.50L614.50,272.50L616.50,272.50L619.50,271.50L620.50,270.50L621.50,268.50L621.50,267.50L620.50,266.50L619.50,264.50L616.50,264.50L614.50,264.50L611.50,264.50L610.50,266.50L609.50,267.50L609.50,268.50" stroke="#3020b0" stroke-width="1" fill="none" stroke-linejoin="round" stroke-linecap="round"/>
<path d="M611.50,213.50L616.50,204.50L621.50,213.50M614.50,200.50L614.50,190.50M618.50,200.50L618.50,190.50M611.50,185.50L611.50,184.50L609.50,182.50L621.50,182.50M609.50,172.50L610.50,174.50L611.50,175.50L614.50,176.50L616.50,176.50L619.50,175.50L620.50,174.50L621.50,172.50L621.50,171.50L620.50,170.50L619.50,168.50L616.50,168.50L614.50,168.50L611.50,168.50L610.50,170.50L609.50,171.50L609.50,172.50" stroke="#c83c1e" stroke-width="1" fill="none" stroke-linejoin="round" stroke-linecap="round"/>
<path d="M609.50,141.50L621.50,141.50M609.50,141.50L621.50,137.50M609.50,132.50L621.50,137.50M609.50,132.50L621.50,132.50M616.50,129.50L616.50,122.50L615.50,122.50L614.50,123.50L614.50,123.50L613.50,124.50L613.50,126.50L614.50,127.50L615.50,128.50L616.50,129.50L618.50,129.50L619.50,128.50L620.50,127.50L621.50,126.50L621.50,124.50L620.50,123.50L619.50,122.50M609.50,120.50L621.50,115.50M609.50,111.50L621.50,115.50" stroke="#000" stroke-width="1" fill="none" stroke-linejoin="round" stroke-linecap="round"/>
</svg></body></html>
